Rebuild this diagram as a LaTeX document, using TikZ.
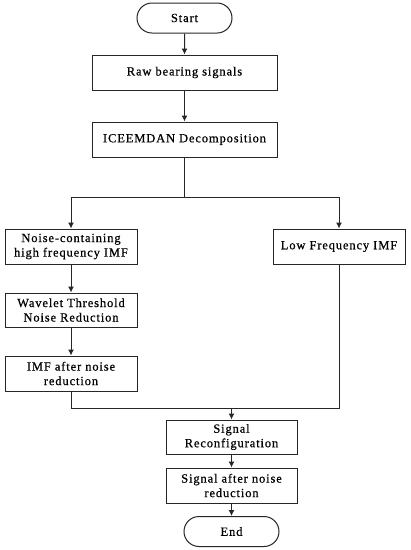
\documentclass[tikz,border=0pt]{standalone}
\usepackage{fontspec}
\setmainfont{Liberation Serif}[LetterSpace=7,FakeBold=0.6]
\usetikzlibrary{shapes.misc,arrows.meta}
\begin{document}
\begin{tikzpicture}[x=1pt,y=-1pt,
  box/.style={draw=black!85, line width=1pt, rectangle, inner sep=0pt, align=center, font=\fontsize{12.5}{14.5}\selectfont},
  term/.style={draw=black!85, line width=1pt, rounded rectangle, inner sep=0pt, minimum width=95pt, minimum height=30pt, font=\fontsize{12.5}{14.5}\selectfont},
  arr/.style={draw=black!85, line width=1pt, -{Latex[length=6pt,width=6pt]}},
  ln/.style={draw=black!85, line width=1pt}]
\useasboundingbox (0,0) rectangle (411,550);
\node[term] (start) at (184.5,18) {Start};
\node[box, minimum width=185pt, minimum height=35pt] (raw) at (184.5,72.5) {Raw bearing signals};
\node[box, minimum width=185pt, minimum height=35pt] (ice) at (184.5,139.5) {ICEEMDAN Decomposition};
\node[box, minimum width=132pt, minimum height=35pt] (noise) at (71,246.5) {Noise-containing\\high frequency IMF};
\node[box, minimum width=132pt, minimum height=35pt] (low) at (339,246.5) {Low Frequency IMF};
\node[box, minimum width=132pt, minimum height=34pt] (wav) at (71,310) {Wavelet Threshold\\Noise Reduction};
\node[box, minimum width=132pt, minimum height=35pt] (imf) at (71,373.5) {IMF after noise\\reduction};
\node[box, minimum width=131pt, minimum height=34pt] (rec) at (231.5,437) {Signal\\Reconfiguration};
\node[box, minimum width=131pt, minimum height=35pt] (aft) at (231.5,485.5) {Signal after noise\\reduction};
\node[term] (end) at (231.5,531.5) {End};
\coordinate (split) at (184.5,197);
\coordinate (merge) at (231.5,408);
\draw[arr] (start) -- (raw);
\draw[arr] (raw) -- (ice);
\draw[ln] (ice) -- (split);
\draw[arr] (split) -| (noise);
\draw[arr] (split) -| (low);
\draw[arr] (noise) -- (wav);
\draw[arr] (wav) -- (imf);
\draw[ln] (imf.south) |- (merge);
\draw[ln] (low.south) |- (merge);
\draw[arr] (merge) -- (rec);
\draw[arr] (rec) -- (aft);
\draw[arr] (aft) -- (end);
\end{tikzpicture}
\end{document}
